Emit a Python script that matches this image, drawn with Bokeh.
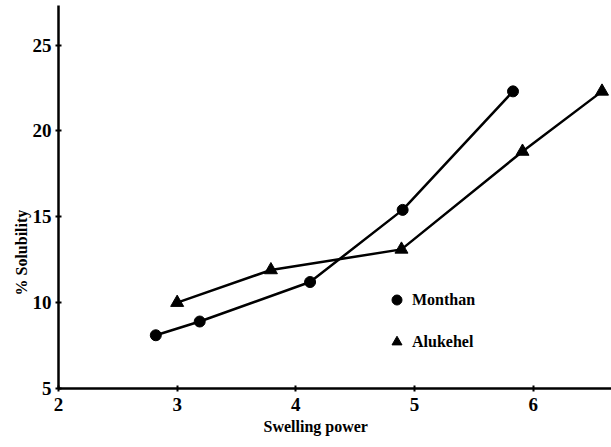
from bokeh.plotting import figure
from bokeh.models import Range1d, Legend, LegendItem, Title, FixedTicker
from bokeh.embed import file_html
from bokeh.resources import INLINE

monthan_x = [2.82, 3.19, 4.12, 4.90, 5.83]
monthan_y = [8.1, 8.9, 11.2, 15.4, 22.3]
alukehel_x = [3.0, 3.79, 4.89, 5.91, 6.58]
alukehel_y = [10.0, 11.9, 13.1, 18.8, 22.3]
x_ticks = [2, 3, 4, 5, 6]
y_ticks = [5, 10, 15, 20, 25]

FONT = "Liberation Serif"

p = figure(width=611, height=447, output_backend="svg", toolbar_location=None,
           x_range=Range1d(2, 6.66), y_range=Range1d(5, 27.3),
           min_border_left=58, min_border_right=0, min_border_top=5, min_border_bottom=59)
p.grid.visible = False
p.outline_line_color = None
p.background_fill_color = "white"
p.border_fill_color = "white"

for ax in (p.xaxis[0], p.yaxis[0]):
    ax.axis_line_width = 2.5
    ax.axis_line_color = "black"
    ax.major_tick_in = 3
    ax.major_tick_out = 3
    ax.major_tick_line_width = 2
    ax.minor_tick_line_color = None
    ax.major_label_text_font = FONT
    ax.major_label_text_font_style = "bold"
    ax.major_label_text_font_size = "19px"
    ax.major_label_text_color = "black"

p.xaxis.ticker = FixedTicker(ticks=x_ticks)
p.yaxis.ticker = FixedTicker(ticks=y_ticks)
p.xaxis.major_label_standoff = 6
p.yaxis.major_label_standoff = 4

xt = Title(text="Swelling power", align="left", offset=205, text_font=FONT,
           text_font_style="bold", text_font_size="16px", standoff=4, text_color="black")
p.add_layout(xt, "below")
yt = Title(text="% Solubility", align="left", offset=93, text_font=FONT,
           text_font_style="bold", text_font_size="16px", standoff=0, text_color="black")
p.add_layout(yt, "left")

p.line(monthan_x, monthan_y, line_color="black", line_width=2.5)
p.line(alukehel_x, alukehel_y, line_color="black", line_width=2.5)
r1 = p.scatter(monthan_x, monthan_y, marker="circle", size=11, color="black")
r2 = p.scatter(alukehel_x, alukehel_y, marker="triangle", size=13, color="black")

legend = Legend(items=[LegendItem(label="Monthan", renderers=[r1]),
                       LegendItem(label="Alukehel", renderers=[r2])],
                location=(326, 34), border_line_color=None, background_fill_alpha=0,
                label_text_font=FONT, label_text_font_style="bold", label_text_color="black",
                label_text_font_size="16px", spacing=17, glyph_width=25, glyph_height=25,
                label_standoff=3, padding=0, margin=0)
p.add_layout(legend, "center")

open("out.html", "w").write(file_html(p, INLINE))
